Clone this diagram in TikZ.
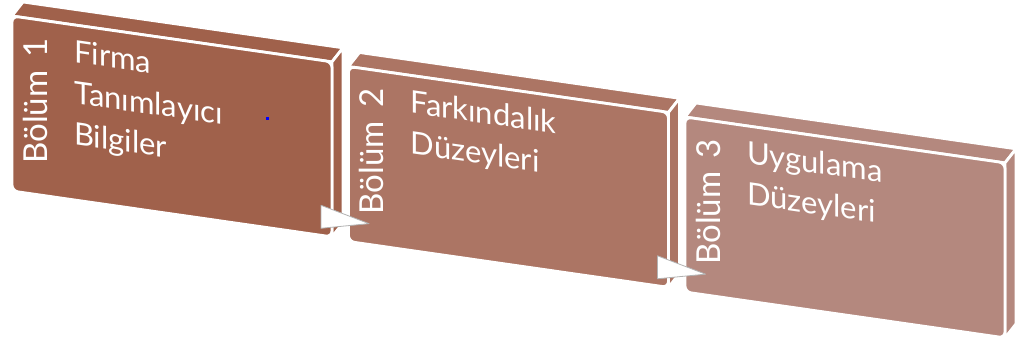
\documentclass[tikz,border=0pt]{standalone}
\usepackage{fontspec}
\setmainfont{Lato}
\usetikzlibrary{positioning}
\definecolor{partA}{HTML}{A0614B}
\definecolor{partB}{HTML}{AC7564}
\definecolor{partC}{HTML}{B4887E}

\begin{document}
\begin{tikzpicture}[x=1pt, y=-1pt,
    face/.style={draw=white, line width=2.8pt, line join=round},
    titletext/.style={text=white, font=\fontsize{31}{40}\selectfont,
      anchor=base west, inner sep=0pt, transform shape},
    parttext/.style={text=white, font=\fontsize{33}{40}\selectfont,
      anchor=base west, inner sep=0pt, rotate=90},
    arrowtip/.style={fill=white, draw=black!30, line width=0.8pt, line join=round}]

    \useasboundingbox (0,0) rectangle (1022,348);

    % Three slanted blocks
    \foreach \i/\col/\txt in {1/partA/{Firma,Tanımlayıcı,Bilgiler},
                              2/partB/{Farkındalık,Düzeyleri},
                              3/partC/{Uygulama,Düzeyleri}} {
      \begin{scope}[shift={({12+336.5*(\i-1)},{16+50.5*(\i-1)})}, yslant=-0.1433]
        % top and right faces
        \draw[face, fill=\col] (0,0) -- (11,-15.6) -- (331,-15.6) -- (320,0) -- cycle;
        \draw[face, fill=\col] (320,0) -- (331,-15.6) -- (331,159.4) -- (320,175) -- cycle;
        % front face
        \draw[face, fill=\col, rounded corners=6pt] (0,0) rectangle (320,175);
        % labels
        \node[parttext] (part\i) at (35,143) {Bölüm\hspace{5pt} \i};
        \foreach \word [count=\k] in \txt
          \node[titletext] (title\i-\k) at (62,{37.5+41*(\k-1)}) {\word};
        % arrow corners
        \coordinate (arr\i-n) at (309,145);
        \coordinate (arr\i-e) at (357,156.5);
        \coordinate (arr\i-s) at (309,168);
      \end{scope}
    }

    % Arrows between the blocks
    \foreach \i in {1,2}
      \draw[arrowtip] (arr\i-n) -- (arr\i-e) -- (arr\i-s) -- cycle;

    % Small marker
    \fill[blue] (265.5,116.5) rectangle +(3,3);

\end{tikzpicture}
\end{document}
